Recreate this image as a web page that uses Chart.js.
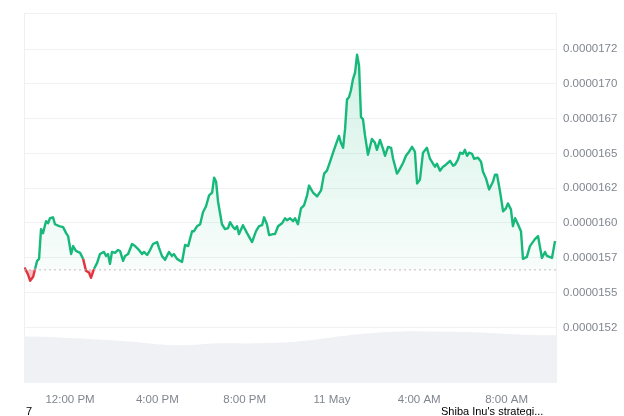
<!DOCTYPE html>
<html><head><meta charset="utf-8">
<script src="https://cdn.jsdelivr.net/npm/chart.js@4.4.0/dist/chart.umd.min.js"></script>
<style>
html,body{margin:0;padding:0;background:#fff;}
#wrap{position:relative;width:624px;height:416px;overflow:hidden;}
canvas{position:absolute;left:0;top:0;}
.note{position:absolute;font:11px "Liberation Sans",Arial,sans-serif;color:#000;line-height:13px;white-space:nowrap;}
</style></head><body>
<div id="wrap"><canvas id="c" width="624" height="416"></canvas>
<div class="note" style="left:26px;top:405px">7</div>
<div class="note" style="left:441px;top:405px">Shiba Inu's strategi...</div>
</div>
<script>
// time of each price sample, hours since 00:00 on 10 May (values > 24 are 11 May)
const hours = [
 9.91,10.08,10.17,10.31,10.40,10.49,10.58,10.67,10.76,10.90,
 10.99,11.08,11.22,11.31,11.50,11.68,11.82,11.91,12.05,12.14,
 12.27,12.46,12.60,12.73,12.87,12.96,13.10,13.24,13.37,13.56,
 13.65,13.74,13.83,13.92,14.06,14.20,14.29,14.43,14.52,14.66,
 14.84,14.98,15.12,15.30,15.39,15.53,15.62,15.80,15.99,16.08,
 16.21,16.35,16.53,16.67,16.76,16.90,17.13,17.27,17.41,17.59,
 17.68,17.82,17.96,18.09,18.23,18.37,18.51,18.60,18.69,18.78,
 18.96,19.10,19.24,19.33,19.47,19.56,19.65,19.74,19.92,20.11,
 20.34,20.52,20.66,20.80,20.89,21.02,21.12,21.30,21.39,21.53,
 21.71,21.85,21.94,22.08,22.22,22.31,22.44,22.58,22.72,22.86,
 22.95,23.13,23.32,23.50,23.64,23.77,23.91,24.05,24.19,24.32,
 24.41,24.51,24.60,24.69,24.78,24.87,24.96,25.06,25.15,25.24,
 25.33,25.42,25.51,25.65,25.83,25.97,26.06,26.20,26.34,26.43,
 26.57,26.71,26.80,26.98,27.07,27.26,27.39,27.53,27.67,27.80,
 27.90,28.03,28.17,28.35,28.49,28.63,28.72,28.81,28.95,29.09,
 29.22,29.41,29.55,29.64,29.77,29.87,30.00,30.09,30.19,30.28,
 30.42,30.51,30.69,30.83,30.92,31.06,31.20,31.38,31.47,31.56,
 31.70,31.84,31.97,32.06,32.20,32.29,32.39,32.52,32.66,32.75,
 32.93,33.07,33.30,33.44,33.62,33.76,33.85,34.08,34.22
];
// SHIB price (USD)
const prices = [
 0.000015680,0.000015628,0.000015585,0.000015614,0.000015671,0.000015728,0.000015742,0.000015956,0.000015927,0.000016013,
 0.000015998,0.000016034,0.000016041,0.000015991,0.000015977,0.000015970,0.000015927,0.000015906,0.000015777,0.000015834,
 0.000015799,0.000015785,0.000015742,0.000015656,0.000015642,0.000015606,0.000015671,0.000015713,0.000015777,0.000015792,
 0.000015763,0.000015777,0.000015706,0.000015792,0.000015785,0.000015806,0.000015799,0.000015728,0.000015763,0.000015777,
 0.000015849,0.000015834,0.000015813,0.000015777,0.000015792,0.000015770,0.000015792,0.000015849,0.000015863,0.000015820,
 0.000015763,0.000015735,0.000015792,0.000015763,0.000015777,0.000015742,0.000015720,0.000015842,0.000015834,0.000015941,
 0.000015941,0.000015977,0.000015991,0.000016077,0.000016120,0.000016198,0.000016219,0.000016326,0.000016298,0.000016155,
 0.000015991,0.000015956,0.000015963,0.000016006,0.000015970,0.000015956,0.000015977,0.000015920,0.000015984,0.000015927,
 0.000015863,0.000015941,0.000015977,0.000015984,0.000016041,0.000015991,0.000015913,0.000015920,0.000015920,0.000015977,
 0.000015998,0.000016034,0.000016020,0.000016034,0.000016013,0.000016034,0.000015991,0.000016105,0.000016127,0.000016198,
 0.000016269,0.000016219,0.000016191,0.000016234,0.000016355,0.000016376,0.000016440,0.000016505,0.000016569,0.000016626,
 0.000016576,0.000016540,0.000016676,0.000016889,0.000016904,0.000016954,0.000017032,0.000017082,0.000017210,0.000017132,
 0.000016761,0.000016747,0.000016633,0.000016490,0.000016604,0.000016576,0.000016526,0.000016597,0.000016533,0.000016483,
 0.000016547,0.000016540,0.000016462,0.000016355,0.000016376,0.000016433,0.000016483,0.000016512,0.000016547,0.000016512,
 0.000016284,0.000016312,0.000016505,0.000016540,0.000016462,0.000016426,0.000016405,0.000016426,0.000016376,0.000016405,
 0.000016419,0.000016447,0.000016412,0.000016419,0.000016455,0.000016505,0.000016497,0.000016526,0.000016483,0.000016505,
 0.000016497,0.000016462,0.000016469,0.000016440,0.000016369,0.000016319,0.000016241,0.000016298,0.000016348,0.000016348,
 0.000016227,0.000016084,0.000016105,0.000016141,0.000016098,0.000015977,0.000016034,0.000015991,0.000015941,0.000015742,
 0.000015756,0.000015834,0.000015884,0.000015906,0.000015749,0.000015792,0.000015763,0.000015749,0.000015870
];
// trading volume (relative, unlabeled in the chart)
const volumeHours = [9.89,11.31,14.52,16.81,18.87,20.70,22.54,24.37,25.06,27.12,28.49,30.78,32.61,34.31];
const volumes = [235,230,210,190,200,200,210,235,245,260,260,255,245,240];
const openPrice = 0.000015663;
const priceTicks = [0.00001525,0.0000155,0.00001575,0.000016,0.00001625,0.0000165,0.00001675,0.000017,0.00001725];
const priceTickLabels = ['0.0000152','0.0000155','0.0000157','0.0000160','0.0000162','0.0000165','0.0000167','0.0000170','0.0000172'];
const timeTicks = [12,16,20,24,28,32];
const timeTickLabels = ['12:00 PM','4:00 PM','8:00 PM','11 May','4:00 AM','8:00 AM'];
const hourRange = [9.89, 34.31];
const priceRange = [0.00001485, 0.00001751];
const volumeMax = 1865;

const GREEN = '#17b97b', RED = '#e2343f';
const FONT = {family: '"Liberation Sans", Arial, sans-serif', size: 11.5};

const frame = {
  id: 'frame',
  beforeDatasetsDraw(chart) {
    const {ctx, chartArea: a} = chart;
    ctx.save();
    ctx.strokeStyle = '#eef0f3';
    ctx.lineWidth = 1;
    ctx.strokeRect(a.left + 0.5, a.top + 0.5, a.right - a.left - 1, a.bottom - a.top - 1);
    ctx.restore();
  }
};

const ctx = document.getElementById('c').getContext('2d');
const chart = new Chart(ctx, {
  type: 'line',
  data: {
    datasets: [
      {
        label: 'baseline',
        data: hourRange.map(h => ({x: h, y: openPrice})),
        borderColor: '#c4b9bd', borderWidth: 1, borderDash: [2, 3],
        pointRadius: 0, fill: false, order: 0
      },
      {
        label: 'price',
        data: hours.map((h, i) => ({x: h, y: prices[i]})),
        borderColor: GREEN, borderWidth: 2.4, pointRadius: 0, tension: 0,
        borderJoinStyle: 'round',
        fill: {target: {value: openPrice}, above: 'rgba(24,184,123,0.12)', below: 'rgba(234,57,67,0.3)'},
        segment: {
          borderColor: c => (c.p0.parsed.y < openPrice || c.p1.parsed.y < openPrice) ? RED : GREEN
        },
        order: 1
      },
      {
        label: 'volume',
        data: volumeHours.map((h, i) => ({x: h, y: volumes[i]})),
        yAxisID: 'v', borderWidth: 0, borderColor: 'rgba(0,0,0,0)',
        backgroundColor: '#eff1f4', fill: 'origin', pointRadius: 0, tension: 0.4,
        order: 2
      }
    ]
  },
  options: {
    responsive: false, animation: false,
    layout: {padding: {left: 24, top: 10, right: 0, bottom: 0}},
    plugins: {legend: {display: false}, tooltip: {enabled: false}},
    scales: {
      x: {
        type: 'linear', min: hourRange[0], max: hourRange[1],
        afterBuildTicks: s => { s.ticks = timeTicks.map(v => ({value: v})); },
        ticks: {
          autoSkip: false, maxRotation: 0, padding: 10, color: '#80868f', font: FONT,
          callback: v => timeTickLabels[timeTicks.indexOf(v)]
        },
        grid: {display: false, drawTicks: false},
        border: {display: false},
        afterFit: s => { s.height = 33; }
      },
      y: {
        position: 'right', min: priceRange[0], max: priceRange[1],
        afterBuildTicks: s => { s.ticks = priceTicks.map(v => ({value: v})); },
        ticks: {
          padding: 6, color: '#80868f', font: FONT,
          callback: v => {
            let best = 0;
            priceTicks.forEach((t, i) => { if (Math.abs(t - v) < Math.abs(priceTicks[best] - v)) best = i; });
            return priceTickLabels[best];
          }
        },
        grid: {color: '#f0f1f3', drawTicks: false},
        border: {display: false},
        afterFit: s => { s.width = 67; }
      },
      v: {display: false, min: 0, max: volumeMax}
    }
  },
  plugins: [frame]
});

const ys = chart.scales.y;
const grad = ctx.createLinearGradient(0, ys.getPixelForValue(priceRange[1]), 0, ys.getPixelForValue(openPrice));
grad.addColorStop(0, 'rgba(24,184,123,0.22)');
grad.addColorStop(1, 'rgba(24,184,123,0.03)');
chart.data.datasets[1].fill.above = grad;
chart.update('none');
</script>
</body></html>
